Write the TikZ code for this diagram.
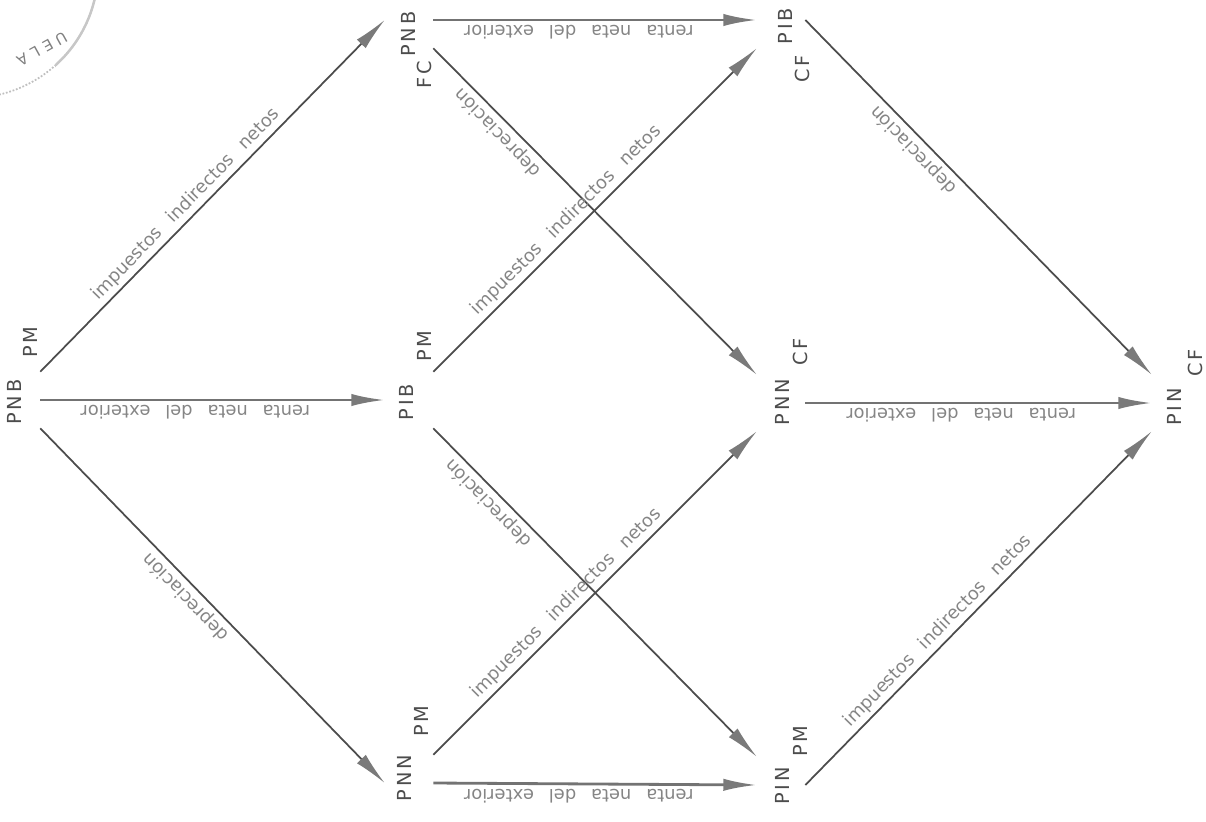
\documentclass[tikz,border=0pt]{standalone}
\usepackage{fontspec}
\setmainfont{DejaVu Sans}
\newfontfamily\capsfont[LetterSpace=15]{DejaVu Sans}
\newfontfamily\edgefont[WordSpace=2.6]{DejaVu Sans}
\newfontfamily\stampfont[LetterSpace=35]{DejaVu Sans}
\usepackage{tikz}
\usetikzlibrary{arrows.meta,positioning}
\tikzset{>={Latex[length=19pt,width=7pt,color=black!52]}}

\begin{document}
\begin{tikzpicture}[x=0.02cm,y=-0.02cm,
		hub/.style={inner sep=0pt,minimum width=0.96cm,minimum height=1.12cm},
		agg/.style={rotate=90,inner sep=0pt,text=black!70,font=\capsfont\fontsize{11}{13}\selectfont},
		flow/.style={->,line width=1pt,draw=black!70},
		across/.style={->,line width=1.6pt,draw=black!55},
		lbl/.style={inner sep=2pt,text=black!48,font=\edgefont\fontsize{10.2}{12}\selectfont}]
	\useasboundingbox (0,0) rectangle (1206,821);
	
	% Library stamp in the corner
	\begin{scope}
		\clip (0,0) rectangle (130,110);
		\draw[black!25, densely dotted, line width=1pt] (-30,-30) circle (2.56cm);
		\clip (55,0) rectangle (130,110);
		\draw[black!22, line width=1.4pt] (-30,-30) circle (2.56cm);
	\end{scope}
	\node[rotate=-151, text=black!50, font=\stampfont\fontsize{8.5}{10}\selectfont] (stamp) at (42,49) {UELA};
	
	% Boxes where the arrows start and end
	\node[hub] (pnbpm) at (16,400) {};
	\node[hub] (pnbfc) at (409,20) {};
	\node[hub] (pibpm) at (409,400) {};
	\node[hub] (pnnpm) at (409,783) {};
	\node[hub] (pibcf) at (781,20) {};
	\node[hub] (pnncf) at (781,403) {};
	\node[hub] (pinpm) at (781,785) {};
	\node[hub] (pincf) at (1176,403) {};
	
	% Aggregate names with their subscripts
	\node[agg] (pnbpm-m) at (14,402) {PNB};
	\node[agg] (pnbpm-s) at (30,342) {PM};
	\node[agg] (pnbfc-m) at (408,34) {PNB};
	\node[agg] (pnbfc-s) at (424,75) {FC};
	\node[agg] (pibpm-m) at (406,402) {PIB};
	\node[agg] (pibpm-s) at (424,346) {PM};
	\node[agg] (pnnpm-m) at (404,778) {PNN};
	\node[agg] (pnnpm-s) at (421,721) {PM};
	\node[agg] (pibcf-m) at (785,26) {PIB};
	\node[agg] (pibcf-s) at (802,69) {CF};
	\node[agg] (pnncf-m) at (782,402) {PNN};
	\node[agg] (pnncf-s) at (800,352) {CF};
	\node[agg] (pinpm-m) at (782,786) {PIN};
	\node[agg] (pinpm-s) at (800,741) {PM};
	\node[agg] (pincf-m) at (1174,407) {PIN};
	\node[agg] (pincf-s) at (1195,363) {CF};
	
	% From PNB at market prices
	\draw[flow] (pnbpm.north east) -- (pnbfc.west)
		node[lbl, pos=.45, sloped, above] (imp1) {impuestos indirectos netos};
	\draw[across] (pnbpm.east) -- (pibpm.west)
		node[lbl, pos=.45, rotate=180, anchor=south] (ren1) {renta neta del exterior};
	\draw[flow] (pnbpm.south east) -- (pnnpm.west)
		node[lbl, pos=.45, rotate=134, anchor=south] (dep1) {depreciación};
	
	% Middle column
	\draw[across] (pnbfc.east) -- (pibcf.west)
		node[lbl, pos=.45, rotate=180, anchor=south] (ren2) {renta neta del exterior};
	\draw[flow] (pnbfc.south east) -- (pnncf.north west)
		node[lbl, pos=.23, rotate=134, anchor=south] (dep2) {depreciación};
	\draw[flow] (pibpm.north east) -- (pibcf.south west)
		node[lbl, pos=.44, sloped, above] (imp2) {impuestos indirectos netos};
	\draw[flow] (pibpm.south east) -- (pinpm.north west)
		node[lbl, pos=.2, rotate=134, anchor=south] (dep3) {depreciación};
	\draw[flow] (pnnpm.north east) -- (pnncf.south west)
		node[lbl, pos=.44, sloped, above] (imp3) {impuestos indirectos netos};
	\draw[across] (pnnpm.east) -- (pinpm.west)
		node[lbl, pos=.45, rotate=180, anchor=south] (ren3) {renta neta del exterior};
	
	% Into PIN at factor cost
	\draw[flow] (pibcf.east) -- (pincf.north west)
		node[lbl, pos=.34, rotate=134, anchor=south] (dep4) {depreciación};
	\draw[across] (pnncf.east) -- (pincf.west)
		node[lbl, pos=.45, rotate=180, anchor=south] (ren4) {renta neta del exterior};
	\draw[flow] (pinpm.east) -- (pincf.south west)
		node[lbl, pos=.41, sloped, above] (imp4) {impuestos indirectos netos};
\end{tikzpicture}
\end{document}
